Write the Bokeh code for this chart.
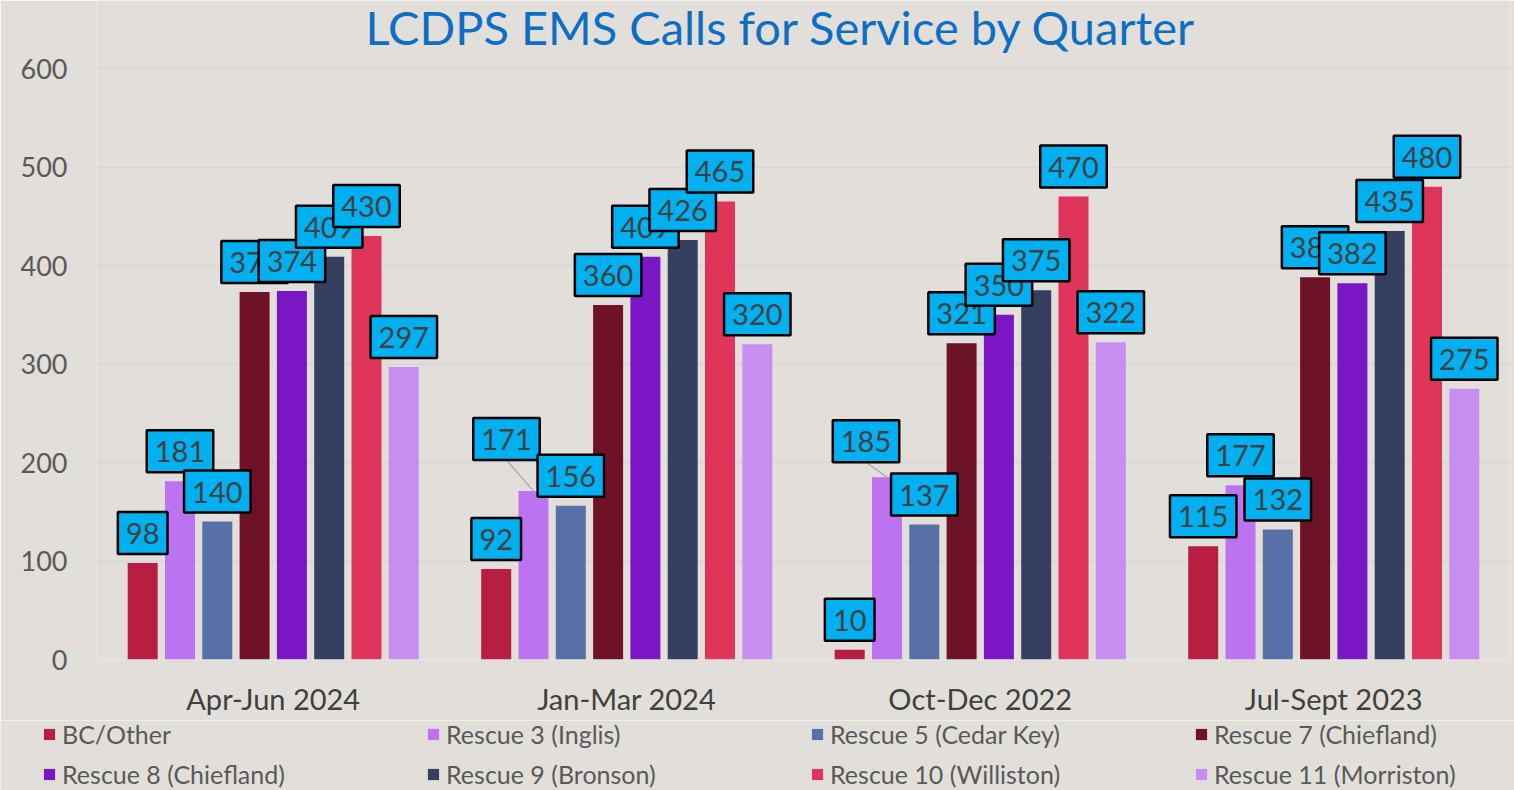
from bokeh.plotting import figure
from bokeh.models import ColumnDataSource, FactorRange, Range1d, Legend, LegendItem, FixedTicker, Label
from bokeh.transform import dodge
from bokeh.core.properties import value
from bokeh.embed import file_html
from bokeh.resources import INLINE

# ---------------- data ----------------
title_text = "LCDPS EMS Calls for Service by Quarter"
quarters = ["Apr-Jun 2024", "Jan-Mar 2024", "Oct-Dec 2022", "Jul-Sept 2023"]
series_names = ["BC/Other", "Rescue 3 (Inglis)", "Rescue 5 (Cedar Key)", "Rescue 7 (Chiefland)",
                "Rescue 8 (Chiefland)", "Rescue 9 (Bronson)", "Rescue 10 (Williston)", "Rescue 11 (Morriston)"]
bc_other = [98, 92, 10, 115]
rescue_3 = [181, 171, 185, 177]
rescue_5 = [140, 156, 137, 132]
rescue_7 = [373, 360, 321, 388]
rescue_8 = [374, 409, 350, 382]
rescue_9 = [409, 426, 375, 435]
rescue_10 = [430, 465, 470, 480]
rescue_11 = [297, 320, 322, 275]
series_values = [bc_other, rescue_3, rescue_5, rescue_7, rescue_8, rescue_9, rescue_10, rescue_11]
y_ticks = [0, 100, 200, 300, 400, 500, 600]

# ---------------- style ----------------
colors = ["#B71E42", "#BD72F0", "#5870A8", "#6E1228", "#7A16C3", "#353F60", "#E0355B", "#C78EF2"]
BG = "#E2DFDA"
FONT = "Lato"
W, H = 1514, 720
LEG_H = 70
ML, MR, MB = 96, 4, 61
TOP_PX = 68                       # pixel row of the 600 gridline
frame_h = H - MB                  # frame reaches the top edge (title lives inside it)
frame_w = W - ML - MR
units_per_px = 600 / (frame_h - TOP_PX)
y_top = 600 + TOP_PX * units_per_px
group_px = frame_w / len(quarters)
bar_w = 30 / group_px
pitch = 37.3 / group_px
offsets = [(i - 3.5) * pitch for i in range(len(series_names))]
# label layout tweaks (series index, group index) -> (x shift px, extra lift px)
label_shift = {(1, 1): (-27, 22), (1, 2): (-21, 6)}
gap_px = 9

p = figure(x_range=FactorRange(*quarters, range_padding=0), y_range=Range1d(0, y_top),
           width=W, height=H, output_backend="svg", toolbar_location=None,
           min_border_left=ML, min_border_right=MR, min_border_top=0, min_border_bottom=MB,
           background_fill_color=BG, border_fill_color=BG)
p.outline_line_color = None
p.title.visible = False

p.add_layout(Label(x=269, y=frame_h - 26, x_units="screen", y_units="screen", text=title_text,
                   text_font=FONT, text_font_size="47px", text_color="#0D6FC4",
                   text_baseline="alphabetic", text_align="left"))

p.yaxis.ticker = FixedTicker(ticks=y_ticks)
p.yaxis.axis_line_color = None
p.yaxis.major_tick_line_color = None
p.yaxis.major_tick_out = 0
p.yaxis.major_tick_in = 0
p.yaxis.minor_tick_line_color = None
p.yaxis.major_label_text_font = FONT
p.yaxis.major_label_text_font_size = "27px"
p.yaxis.major_label_text_color = "#595959"
p.yaxis.major_label_standoff = 29

p.xaxis.axis_line_color = None
p.xaxis.major_tick_line_color = None
p.xaxis.major_tick_out = 0
p.xaxis.major_tick_in = 0
p.xaxis.minor_tick_line_color = None
p.xaxis.major_label_text_font = FONT
p.xaxis.major_label_text_font_size = "29px"
p.xaxis.major_label_text_color = "#404040"
p.xaxis.major_label_standoff = 21

p.xgrid.grid_line_color = None
p.ygrid.grid_line_color = "#D2D5DA"
p.ygrid.grid_line_width = 1.5

sources = []
for i, (name, vals) in enumerate(zip(series_names, series_values)):
    xs = [label_shift.get((i, g), (0, 0))[0] for g in range(len(quarters))]
    ys = [-(gap_px + label_shift.get((i, g), (0, 0))[1]) for g in range(len(quarters))]
    src = ColumnDataSource(dict(q=quarters, v=vals, lbl=[str(v) for v in vals], xo=xs, yo=ys))
    sources.append(src)
    p.vbar(x=dodge("q", offsets[i], range=p.x_range), top="v", width=bar_w, source=src,
           fill_color=colors[i], line_color=None)

# leader lines for shifted labels
for (i, g), (dx, dy) in label_shift.items():
    v = series_values[i][g]
    p.segment(x0=dodge("q", offsets[i], range=p.x_range), y0="v",
              x1=dodge("q", offsets[i] + dx / group_px, range=p.x_range), y1="v1",
              source=ColumnDataSource(dict(q=[quarters[g]], v=[v], v1=[v + (gap_px + dy) * units_per_px])),
              line_color="#A6A6A6", line_width=1.2)

for i, src in enumerate(sources):
    p.text(x=dodge("q", offsets[i], range=p.x_range), y="v", text="lbl", source=src,
           x_offset="xo", y_offset="yo",
           text_align="center", text_baseline="bottom",
           text_font=value(FONT), text_font_size="29px", text_color="#404040",
           background_fill_color="#00B0F0", border_line_color="black", border_line_width=2.5,
           padding=dict(left=8, right=8, top=11, bottom=10))

# ---------------- legend strip (separate root so it is not frame-aligned) ----------------
p2 = figure(width=W, height=LEG_H, output_backend="svg", toolbar_location=None,
            x_range=Range1d(0, 1), y_range=Range1d(0, 1),
            x_axis_location=None, y_axis_location=None,
            min_border_left=0, min_border_right=0, min_border_top=0, min_border_bottom=0,
            background_fill_color=BG, border_fill_color=BG)
p2.outline_line_color = None
p2.grid.visible = False
p2.title.visible = False
items = []
for i, name in enumerate(series_names):
    # swatch renderer kept outside the visible range; only its legend entry is seen
    r = p2.vbar(x=[-5], top=[-5], width=0.1, fill_color=colors[i], line_color=None)
    items.append(LegendItem(label=name, renderers=[r]))

legend = Legend(items=items, orientation="horizontal", ncols=4, location=(42, 1),
                label_width=354, label_height=26, glyph_width=14, glyph_height=14,
                label_standoff=6, spacing=10, padding=0, margin=0,
                background_fill_alpha=0, border_line_color=None,
                label_text_font=FONT, label_text_font_size="25px", label_text_color="#595959")
p2.add_layout(legend)

open("out.html", "w").write(file_html([p, p2], INLINE))
